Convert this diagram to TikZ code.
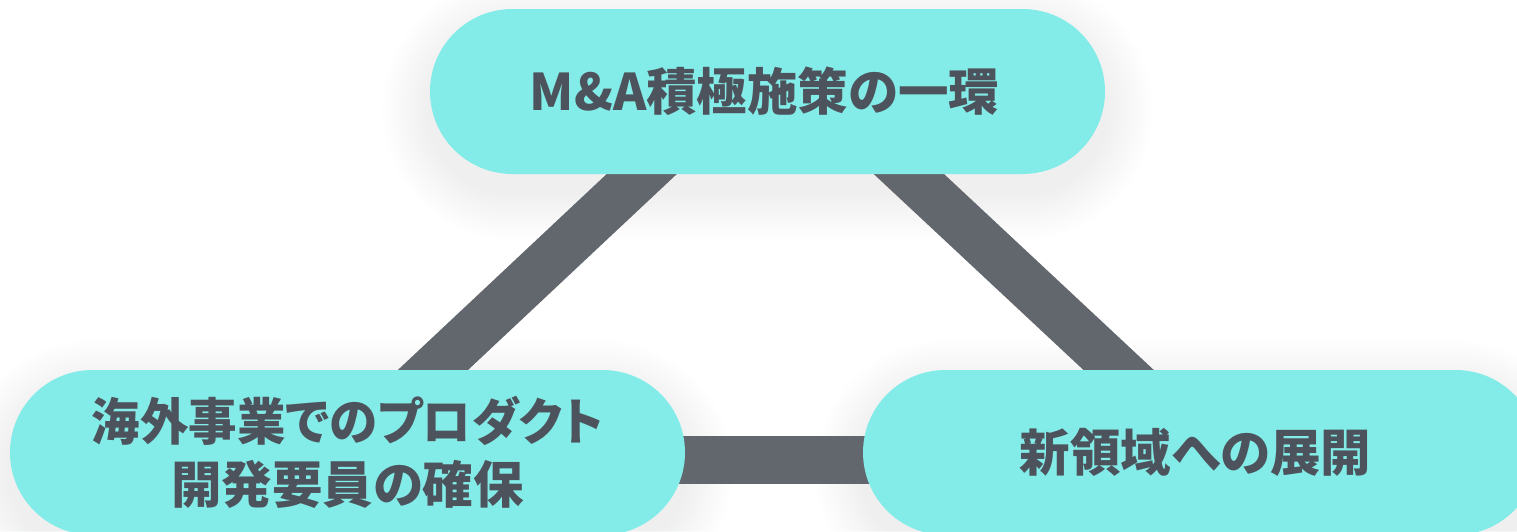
\documentclass[tikz,border=0pt]{standalone}
\usepackage{fontspec}
\newfontfamily\jp[BoldFont={Noto Sans CJK JP Black},RawFeature={+palt}]{Noto Sans CJK JP}
\usetikzlibrary{calc}
\definecolor{pillfill}{HTML}{83ECE8}
\definecolor{pilltext}{HTML}{4D535C}
\definecolor{connc}{HTML}{62666D}
\definecolor{shadowc}{HTML}{6A7686}
\tikzset{
  pill/.style={fill=pillfill, draw=none, rounded corners=82.5pt, minimum width=675pt, minimum height=165pt,
    text=pilltext, font=\jp\bfseries\fontsize{50.5}{63}\selectfont, align=center, inner sep=0pt},
  conn/.style={draw=connc, line width=48pt}
}
% soft shadow: #1 = center x, #2 = center y
\newcommand{\pillglow}[2]{%
  \foreach \k in {1,...,16}{%
    \fill[shadowc, fill opacity=0.0045, rounded corners={82.5pt+3*\k pt}]
      ($(#1,#2)+(-337.5-3*\k,-82.5-3*\k+18)$) rectangle ($(#1,#2)+(337.5+3*\k,82.5+3*\k+18)$);
  }}
\begin{document}
\begin{tikzpicture}[x=1pt,y=-1pt]
\useasboundingbox[fill=white] (0,0) rectangle (1517,531);
% shadows
\pillglow{767.5}{91.5}
\pillglow{347.5}{452.5}
\pillglow{1200.5}{452.5}
% connector corners
\coordinate (apex) at (775,49);
\coordinate (lcorner) at (337,460);
\coordinate (rcorner) at (1215,460);
\draw[conn] (apex) -- (lcorner);
\draw[conn] (apex) -- (rcorner);
\draw[conn] (lcorner) -- (rcorner);
% nodes
\node[pill] (top) at (767.5,91.5) {\hspace*{-6pt}M\&A積極施策の一環};
\node[pill] (left) at (347.5,452.5) {\scalebox{0.96}[1]{海外事業でのプロダクト}\\開発要員の確保};
\node[pill] (right) at (1200.5,452.5) {\hspace*{-10pt}新領域への展開};
\end{tikzpicture}
\end{document}
